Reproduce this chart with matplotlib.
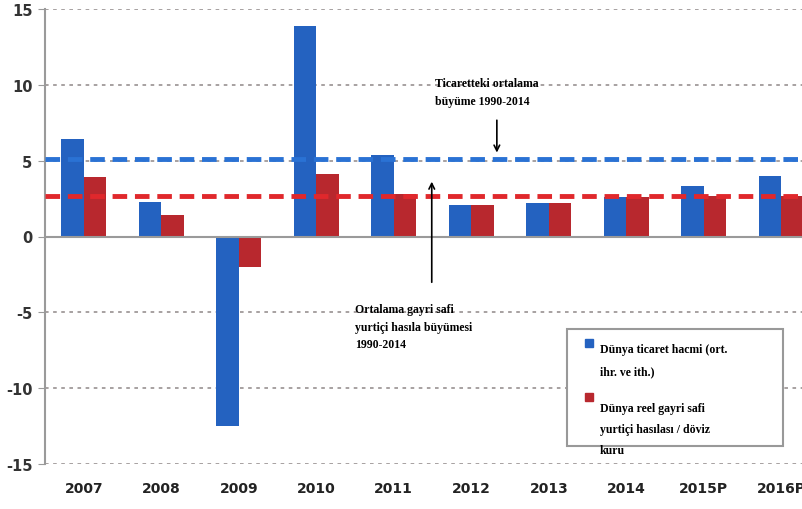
import matplotlib.pyplot as plt
import numpy as np
from matplotlib.patches import Rectangle

years = ['2007', '2008', '2009', '2010', '2011', '2012', '2013', '2014', '2015P', '2016P']
trade = [6.4, 2.3, -12.5, 13.9, 5.4, 2.1, 2.2, 2.6, 3.3, 4.0]
gdp = [3.95, 1.45, -2.0, 4.1, 2.8, 2.1, 2.2, 2.6, 2.7, 2.7]
avg_trade = 5.1
avg_gdp = 2.65
yticks = [15, 10, 5, 0, -5, -10, -15]

blue = '#2462c0'
red = '#b8282e'

fig = plt.figure(figsize=(8.03, 5.10), dpi=100)
ax = fig.add_axes([45/803, 45/510, (803-45)/803, 455/510])

x = np.arange(len(years))
w = 0.29
ax.bar(x - w/2, trade, w, color=blue, zorder=3)
ax.bar(x + w/2, gdp, w, color=red, zorder=3)

ax.set_ylim(-15, 15)
ax.set_xlim(-0.5, 9.28)

# dotted grid
for t in yticks:
    if t != 0:
        ax.axhline(t, color='#a09a9a', lw=1.3, ls=(0, (2, 2.5)), zorder=1)
ax.axhline(0, color='#9a9a9a', lw=1.5, zorder=4)

# average lines
ax.axhline(avg_trade, color='#2a72d4', lw=3.5, ls=(0, (3, 1.6)), zorder=5)
ax.axhline(avg_gdp, color='#e0282c', lw=3.5, ls=(0, (3, 1.6)), zorder=5)

for s in ['top', 'right', 'bottom']:
    ax.spines[s].set_visible(False)
ax.spines['left'].set_color('#9a9a9a')
ax.spines['left'].set_linewidth(1.5)

ax.set_yticks(yticks)
ax.set_yticklabels([str(t) for t in yticks], fontsize=10.5, color='#333333', fontweight='bold')
ax.tick_params(axis='y', length=5, color='#9a9a9a', pad=4)
ax.set_xticks(x)
ax.set_xticklabels(years, fontsize=10, color='#222222', fontweight='bold')
ax.tick_params(axis='x', length=0, pad=12)

serif = 'Liberation Serif'
ax.text(4.53, 10.5, 'Ticaretteki ortalama\nbüyüme 1990-2014', fontsize=8.5, fontweight='bold',
        family=serif, va='top', ha='left', linespacing=1.6, zorder=6)
ax.annotate('', xy=(5.33, 5.35), xytext=(5.33, 7.85),
            arrowprops=dict(arrowstyle='->', color='black', lw=1.2), zorder=6)

ax.text(3.5, -4.4, 'Ortalama gayri safi\nyurtiçi hasıla büyümesi\n1990-2014', fontsize=8.5,
        fontweight='bold', family=serif, va='top', ha='left', linespacing=1.6, zorder=6)
ax.annotate('', xy=(4.49, 3.8), xytext=(4.49, -3.2),
            arrowprops=dict(arrowstyle='->', color='black', lw=1.2), zorder=6)

# legend box (text runs past the bottom edge, as in the source)
lx0 = (567 - 45) / 77.5 - 0.5
lx1 = (783 - 45) / 77.5 - 0.5
ax.add_patch(Rectangle((lx0, -13.8), lx1 - lx0, 7.7, facecolor='white',
                       edgecolor='#999999', lw=1.5, zorder=6))
ax.plot([lx0 + 0.28], [-7.0], 's', color=blue, ms=6, zorder=7)
ax.plot([lx0 + 0.28], [-10.6], 's', color=red, ms=6, zorder=7)
ax.text(lx0 + 0.42, -7.05, 'Dünya ticaret hacmi (ort.\nihr. ve ith.)', fontsize=8.5,
        fontweight='bold', family=serif, va='top', ha='left', linespacing=2.1, zorder=7)
ax.text(lx0 + 0.42, -10.9, 'Dünya reel gayri safi\nyurtiçi hasılası / döviz\nkuru', fontsize=8.5,
        fontweight='bold', family=serif, va='top', ha='left', linespacing=2.0, zorder=7)

fig.savefig('out.png', dpi=100)
